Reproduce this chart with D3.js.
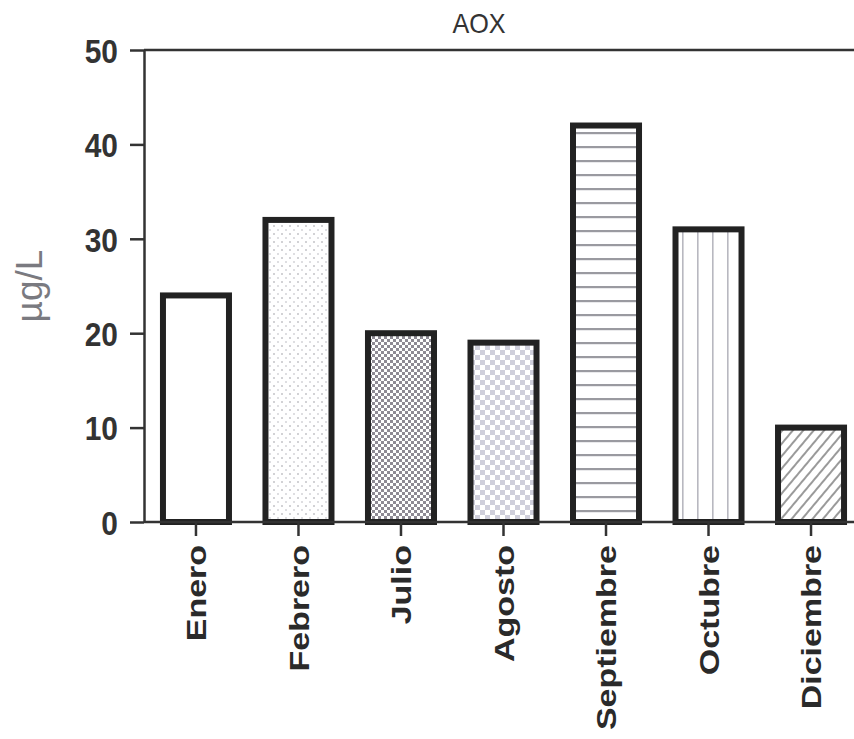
<!DOCTYPE html>
<html><head><meta charset="utf-8">
<script src="https://cdn.jsdelivr.net/npm/d3@7"></script>
<style>body{margin:0;background:#fff}svg{display:block}</style>
</head><body>
<svg id="c" width="854" height="739"></svg>
<script>
const months = ["Enero","Febrero","Julio","Agosto","Septiembre","Octubre","Diciembre"];
const values = [24, 32, 20, 19, 42, 31, 10];
const fills = ["white","dots","checkDense","checkLight","hlines","vlines","diag"];
const yTicks = [0, 10, 20, 30, 40, 50];
const title = "AOX";
const yLabel = "µg/L";

const FONT = "Liberation Sans, Arial, sans-serif";
const svg = d3.select("#c");
const defs = svg.append("defs");
function pat(id, w, h, build, transform){
  const p = defs.append("pattern").attr("id", id).attr("patternUnits","userSpaceOnUse").attr("width", w).attr("height", h);
  if (transform) p.attr("patternTransform", transform);
  p.append("rect").attr("width", w).attr("height", h).attr("fill", "#fff");
  build(p);
}
pat("dots", 8, 8, p => { p.append("circle").attr("cx",2).attr("cy",2).attr("r",1).attr("fill","#c4c4c8");
                          p.append("circle").attr("cx",6).attr("cy",6).attr("r",1).attr("fill","#d4d4d8"); });
pat("checkDense", 6, 6, p => { p.append("rect").attr("width",3).attr("height",3).attr("fill","#8e8a94");
                               p.append("rect").attr("x",3).attr("y",3).attr("width",3).attr("height",3).attr("fill","#8e8a94"); });
pat("checkLight", 10, 10, p => { p.append("rect").attr("width",5).attr("height",5).attr("fill","#cfcfdb");
                                 p.append("rect").attr("x",5).attr("y",5).attr("width",5).attr("height",5).attr("fill","#cfcfdb"); });
pat("hlines", 10, 14, p => { p.append("rect").attr("y",6).attr("width",10).attr("height",2.2).attr("fill","#9a9aa0"); });
pat("vlines", 15, 10, p => { p.append("rect").attr("x",7).attr("width",1.6).attr("height",10).attr("fill","#b8b8c0"); });
pat("diag", 8, 8, p => { p.append("rect").attr("x",3).attr("width",2).attr("height",8).attr("fill","#9a9a9a"); }, "rotate(40)");

const x = d3.scaleBand().domain(months).range([144, 863]).paddingInner(0.356).paddingOuter(0.185);
const y = d3.scaleLinear().domain([0, 50]).range([522, 50]);

// top frame line
svg.append("line").attr("x1",144).attr("x2",854).attr("y1",y(50)).attr("y2",y(50))
  .attr("stroke","#333").attr("stroke-width",2.5);

// bars
svg.selectAll("rect.bar").data(months).join("rect").attr("class","bar")
  .attr("x", d => x(d)).attr("width", x.bandwidth())
  .attr("y", (d,i) => y(values[i])).attr("height", (d,i) => y(0) - y(values[i]))
  .attr("fill", (d,i) => fills[i] === "white" ? "#fff" : `url(#${fills[i]})`)
  .attr("stroke", "#222").attr("stroke-width", 6);

// y axis
const ya = svg.append("g").attr("transform","translate(144,0)")
  .call(d3.axisLeft(y).tickValues(yTicks).tickSize(14).tickPadding(12).tickSizeOuter(0));
ya.select(".domain").attr("stroke","#333").attr("stroke-width",2.5);
ya.selectAll(".tick line").attr("stroke","#333").attr("stroke-width",2.5);
ya.selectAll(".tick text").attr("font-family",FONT).attr("font-weight","bold")
  .attr("font-size",34).attr("fill","#333").attr("dy","0.36em")
  .attr("x",0).attr("transform","translate(-26,0) scale(0.88,1)");

// x axis
const xa = svg.append("g").attr("transform",`translate(0,${y(0)})`)
  .call(d3.axisBottom(x).tickSize(14).tickPadding(9).tickSizeOuter(0));
xa.select(".domain").attr("d","M144,0H854").attr("stroke","#333").attr("stroke-width",2.5);
xa.selectAll(".tick line").attr("stroke","#333").attr("stroke-width",2.5);
xa.selectAll(".tick text").attr("font-family",FONT).attr("font-weight","bold")
  .attr("font-size",34).attr("fill","#2a2a2a")
  .attr("transform","rotate(-90) scale(1,0.84)").attr("text-anchor","end").attr("x",-23).attr("y",0).attr("dy","0.36em");

// title
svg.append("text").attr("transform","translate(479,33) scale(0.9,1)").attr("text-anchor","middle")
  .attr("font-family",FONT).attr("font-size",28).attr("fill","#333").text(title);

// y label
svg.append("text").attr("transform","translate(42,286) rotate(-90)").attr("text-anchor","middle")
  .attr("font-family",FONT).attr("font-size",37).attr("fill","#7a7a80").text(yLabel);
</script>
</body></html>
